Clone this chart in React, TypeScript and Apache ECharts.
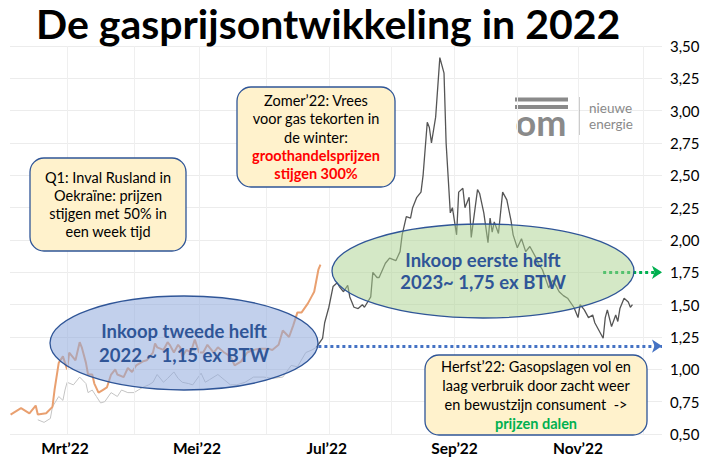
import React, { useEffect, useRef } from "react";
import * as echarts from "echarts";

// Day-of-year 2022 (1 Jan = 0) and gas price (EUR/m3)
const orangeDays = [33, 38, 42, 45, 46, 50, 53, 54, 56, 58, 60, 61, 64, 66, 67, 69, 70, 72, 73, 75, 77, 79, 81, 83, 84, 87, 89, 91, 93, 96, 98, 101, 102, 103, 106, 108, 109, 111, 113, 114, 115, 117, 119, 121, 123, 125, 127, 130, 132, 135, 138, 140, 143, 146, 149, 152, 156, 158, 161, 163, 166, 168, 170, 172, 175, 177, 178, 180, 181];
const orangeValues = [0.65, 0.70, 0.66, 0.72, 0.65, 0.66, 0.71, 0.84, 1.05, 1.10, 1.00, 1.13, 1.07, 1.21, 1.17, 1.05, 0.96, 0.96, 0.89, 0.82, 0.84, 0.86, 0.96, 1.00, 0.96, 0.94, 1.01, 0.98, 1.03, 1.06, 1.07, 1.13, 1.20, 1.17, 1.15, 1.21, 1.19, 1.13, 1.19, 1.17, 1.10, 1.15, 1.13, 1.23, 1.13, 1.13, 1.19, 1.13, 1.17, 1.13, 1.10, 1.03, 1.06, 1.13, 1.15, 1.16, 1.16, 1.15, 1.19, 1.30, 1.25, 1.34, 1.44, 1.44, 1.51, 1.57, 1.60, 1.77, 1.81];

const lightDays = [46, 49, 52, 53, 56, 58, 59, 60, 63, 66, 69, 70, 72, 74, 76, 78, 81, 84, 86, 89, 92, 94, 96, 99, 101, 103, 106, 108, 111, 113, 115, 118, 120, 124, 126, 128, 132, 135, 138, 141, 145, 149, 154, 158, 163, 167, 170, 174, 177, 179];
const lightValues = [0.61, 0.59, 0.62, 0.71, 0.79, 0.76, 0.84, 0.90, 0.88, 0.94, 0.89, 0.82, 0.84, 0.79, 0.74, 0.75, 0.82, 0.79, 0.84, 0.82, 0.82, 0.84, 0.86, 0.88, 0.90, 0.96, 0.90, 0.93, 0.98, 0.93, 0.90, 0.89, 0.88, 0.97, 0.90, 0.92, 0.96, 0.92, 0.88, 0.88, 0.90, 0.94, 0.94, 0.93, 0.94, 1.03, 1.02, 1.13, 1.15, 1.17];

const darkDays = [179, 182, 183, 185, 187, 189, 190, 192, 194, 195, 197, 199, 201, 202, 205, 206, 208, 209, 212, 214, 217, 219, 220, 222, 224, 225, 227, 229, 230, 232, 233, 234, 236, 238, 240, 241, 243, 244, 246, 247, 249, 250, 252, 253, 256, 257, 259, 261, 262, 263, 264, 266, 268, 270, 272, 273, 275, 277, 279, 281, 284, 285, 287, 290, 292, 295, 297, 299, 302, 304, 305, 307, 309, 311, 312, 314, 316, 317, 318, 320, 322, 323, 324, 326, 328, 329, 330];
const darkValues = [1.17, 1.24, 1.36, 1.48, 1.64, 1.67, 1.64, 1.60, 1.65, 1.56, 1.48, 1.47, 1.50, 1.48, 1.56, 1.75, 1.71, 1.71, 1.82, 1.86, 1.84, 1.91, 2.04, 2.18, 2.17, 2.25, 2.33, 2.37, 2.50, 2.91, 2.87, 2.75, 2.95, 3.41, 3.29, 2.75, 2.21, 2.25, 2.04, 2.37, 2.40, 2.25, 2.33, 2.02, 2.39, 2.36, 2.21, 1.98, 2.17, 2.06, 2.14, 2.05, 2.37, 2.31, 2.15, 2.04, 1.94, 2.01, 1.91, 1.95, 1.86, 1.82, 1.77, 1.63, 1.69, 1.60, 1.57, 1.55, 1.48, 1.40, 1.50, 1.46, 1.40, 1.42, 1.36, 1.30, 1.24, 1.40, 1.46, 1.33, 1.42, 1.37, 1.47, 1.55, 1.52, 1.48, 1.50];

const xLabelDays = [59, 122, 184, 245, 304];
const xLabelTexts = ["Mrt’22", "Mei’22", "Jul’22", "Sep’22", "Nov’22"];
const monthGridDays = [60, 92, 123, 155, 185, 215, 245, 275, 304, 335];

const X_MIN = 32.73;
const X_MAX = 344.1;
const Y_MIN = 0.5;
const Y_MAX = 3.5;
const Y_STEP = 0.25;

// Purchase price levels (arrows)
const purchase2022H2 = { value: 1.18, fromDay: 180 };
const purchase2023H1 = { value: 1.75, fromDay: 316 };

const FONT = "Lato, 'Open Sans', sans-serif";

const zip = (xs: number[], ys: number[]) => xs.map((x, i) => [x, ys[i]]);

function box(x: number, y: number, w: number, h: number, lines: string[], fontSize: number, lh: number) {
  return [
    {
      type: "rect",
      z: 30,
      shape: { x, y, width: w, height: h, r: 14 },
      style: { fill: "#FFF2CC", stroke: "#2F5597", lineWidth: 1.3 },
    },
    {
      type: "text",
      z: 31,
      x: x + w / 2,
      y: y + h / 2,
      style: {
        text: lines.join("\n"),
        align: "center",
        verticalAlign: "middle",
        rich: {
          n: { fontSize, fontFamily: FONT, fill: "#000", lineHeight: lh, align: "center" },
          r: { fontSize, fontFamily: FONT, fontWeight: "bold", fill: "#FF0000", lineHeight: lh, align: "center" },
          g: { fontSize, fontFamily: FONT, fontWeight: "bold", fill: "#00B050", lineHeight: lh, align: "center" },
        },
      },
    },
  ];
}

function ellipse(cx: number, cy: number, rx: number, ry: number, fill: string, lines: string[], lh: number) {
  return [
    {
      type: "ellipse",
      z: 10,
      shape: { cx, cy, rx, ry },
      style: { fill, stroke: "#2F5597", lineWidth: 1.3 },
    },
    {
      type: "text",
      z: 11,
      x: cx,
      y: cy,
      style: {
        text: lines.join("\n"),
        align: "center",
        verticalAlign: "middle",
        fontSize: 18.5,
        fontWeight: "bold",
        fontFamily: FONT,
        fill: "#2F5597",
        lineHeight: lh,
      },
    },
  ];
}

export default function App() {
  const ref = useRef<HTMLDivElement>(null);
  useEffect(() => {
    if (!ref.current) return;
    const chart = echarts.init(ref.current, undefined, { renderer: "svg" });
    const option: any = {
      animation: false,
      backgroundColor: "#ffffff",
      title: {
        text: "De gasprijsontwikkeling in 2022",
        left: 36,
        top: 3,
        padding: 0,
        textStyle: { fontSize: 41, fontWeight: "bold", fontFamily: FONT, color: "#000" },
      },
      grid: { left: 10, right: 45, top: 46, bottom: 23 },
      xAxis: {
        type: "value",
        min: X_MIN,
        max: X_MAX,
        axisLine: { show: false },
        axisTick: { show: false },
        splitLine: { show: false },
        axisLabel: {
          customValues: xLabelDays,
          formatter: (v: number) => {
            const i = xLabelDays.indexOf(Math.round(v));
            return i >= 0 ? xLabelTexts[i] : "";
          },
          fontSize: 15.5,
          fontWeight: "bold",
          fontFamily: FONT,
          color: "#000",
          margin: 6,
        },
      },
      yAxis: {
        type: "value",
        position: "right",
        min: Y_MIN,
        max: Y_MAX,
        interval: Y_STEP,
        axisLine: { show: false },
        axisTick: { show: false },
        splitLine: { lineStyle: { color: "#ececec", width: 1 } },
        axisLabel: {
          formatter: (v: number) => v.toFixed(2).replace(".", ","),
          fontSize: 15,
          fontFamily: FONT,
          color: "#000",
          margin: 8,
        },
      },
      series: [
        {
          type: "line",
          data: [],
          silent: true,
          z: 0,
          markLine: {
            silent: true,
            symbol: ["none", "none"],
            label: { show: false },
            lineStyle: { color: "#efefef", width: 1, type: "solid" },
            data: monthGridDays.map((d) => ({ xAxis: d })),
          },
        },
        {
          type: "line",
          data: zip(lightDays, lightValues),
          showSymbol: false,
          lineStyle: { color: "#c4c4c4", width: 1 },
          z: 3,
        },
        {
          type: "line",
          data: zip(orangeDays, orangeValues),
          showSymbol: false,
          lineStyle: { color: "#E9A070", width: 2 },
          z: 4,
        },
        {
          type: "line",
          data: zip(darkDays, darkValues),
          showSymbol: false,
          lineStyle: { color: "#555555", width: 1.3 },
          z: 5,
        },
        {
          type: "line",
          data: [],
          z: 20,
          markLine: {
            silent: true,
            symbol: ["none", "arrow"],
            symbolSize: [10, 10],
            label: { show: false },
            data: [
              [
                { coord: [purchase2022H2.fromDay, purchase2022H2.value], lineStyle: { color: "#4472C4", width: 3, type: [3, 3] } },
                { coord: [X_MAX, purchase2022H2.value] },
              ],
              [
                { coord: [purchase2023H1.fromDay, purchase2023H1.value], lineStyle: { color: "#00B050", width: 3, type: [3, 3] } },
                { coord: [X_MAX, purchase2023H1.value] },
              ],
            ],
          },
        },
      ],
      graphic: [
        // logo
        { type: "rect", z: 5, shape: { x: 515, y: 97.5, width: 53, height: 4 }, style: { fill: "#8a8a8a" } },
        { type: "rect", z: 5, shape: { x: 515, y: 105, width: 53, height: 4 }, style: { fill: "#8a8a8a" } },
        {
          type: "text", z: 5, x: 541, y: 122,
          style: { text: "om", align: "center", verticalAlign: "middle", fontSize: 36, fontWeight: "bold", fontFamily: FONT, fill: "#8a8a8a" },
        },
        { type: "line", z: 5, shape: { x1: 579, y1: 97, x2: 579, y2: 135 }, style: { stroke: "#9a9a9a", lineWidth: 1 } },
        {
          type: "text", z: 5, x: 589, y: 107.5,
          style: { text: "nieuwe", align: "left", verticalAlign: "middle", fontSize: 13.5, lineHeight: 13, fontFamily: FONT, fill: "#8a8a8a" },
        },
        {
          type: "text", z: 5, x: 589, y: 124,
          style: { text: "energie", align: "left", verticalAlign: "middle", fontSize: 13.5, lineHeight: 13, fontFamily: FONT, fill: "#8a8a8a" },
        },
        ...ellipse(184, 343, 134, 47, "rgba(143,170,220,0.55)", ["Inkoop tweede helft", "2022 ~ 1,15 ex BTW"], 24),
        ...ellipse(483, 271, 151, 47, "rgba(169,209,142,0.5)", ["Inkoop eerste helft", "2023~ 1,75 ex BTW"], 22),
        ...box(30, 158, 156, 93,
          ["{n|Q1: Inval Rusland in}", "{n|Oekraïne: prijzen}", "{n|stijgen met 50% in}", "{n|een week tijd}"], 14.5, 18.3),
        ...box(237, 87, 158, 100,
          ["{n|Zomer’22: Vrees}", "{n|voor gas tekorten in}", "{n|de winter:}", "{r|groothandelsprijzen}", "{r|stijgen 300%}"], 14.5, 18.3),
        ...box(425, 355, 222, 80,
          ["{n|Herfst’22: Gasopslagen vol en}", "{n|laag verbruik door zacht weer}", "{n|en bewustzijn consument  ->}", "{g|prijzen dalen}"], 14.5, 18.7),
      ],
    };
    chart.setOption(option);
    return () => chart.dispose();
  }, []);
  return (
    <div
      ref={ref}
      style={{ position: "fixed", left: 0, top: 0, width: 707, height: 457, background: "#fff" }}
    />
  );
}
